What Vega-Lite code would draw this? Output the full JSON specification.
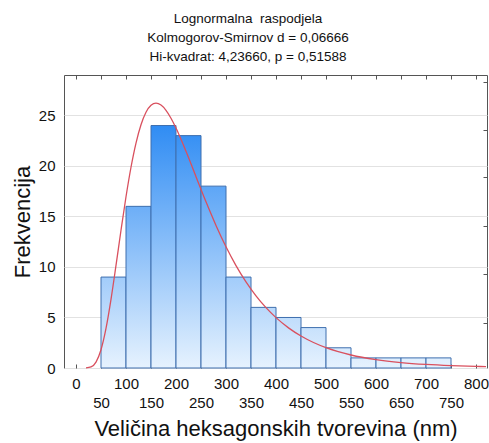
{
  "$schema": "https://vega.github.io/schema/vega-lite/v6.json",
  "width": 423,
  "height": 293,
  "autosize": {"type": "none"},
  "padding": {"left": 64, "top": 75, "right": 2, "bottom": 75},
  "background": "white",
  "config": {
    "font": "Liberation Sans",
    "view": {"stroke": "#555555", "strokeWidth": 1}
  },
  "title": {
    "text": ["Lognormalna\u00a0\u00a0raspodjela", "Kolmogorov-Smirnov d = 0,06666", "Hi-kvadrat: 4,23660, p = 0,51588"],
    "font": "Liberation Sans",
    "fontSize": 13.5,
    "fontWeight": "normal",
    "color": "#111111",
    "lineHeight": 19,
    "anchor": "middle",
    "dx": -27.5,
    "offset": 11
  },
  "datasets": {
    "bins": [
      {"start": 50, "end": 100, "count": 9},
      {"start": 100, "end": 150, "count": 16},
      {"start": 150, "end": 200, "count": 24},
      {"start": 200, "end": 250, "count": 23},
      {"start": 250, "end": 300, "count": 18},
      {"start": 300, "end": 350, "count": 9},
      {"start": 350, "end": 400, "count": 6},
      {"start": 400, "end": 450, "count": 5},
      {"start": 450, "end": 500, "count": 4},
      {"start": 500, "end": 550, "count": 2},
      {"start": 550, "end": 600, "count": 1},
      {"start": 600, "end": 650, "count": 1},
      {"start": 650, "end": 700, "count": 1},
      {"start": 700, "end": 750, "count": 1}
    ],
    "curve": [
      {"x": 20, "f": 0.005}, {"x": 30, "f": 0.103}, {"x": 40, "f": 0.589},
      {"x": 50, "f": 1.81}, {"x": 60, "f": 3.917}, {"x": 70, "f": 6.798},
      {"x": 80, "f": 10.149}, {"x": 90, "f": 13.633}, {"x": 100, "f": 16.947},
      {"x": 110, "f": 19.869}, {"x": 120, "f": 22.263}, {"x": 130, "f": 24.076},
      {"x": 140, "f": 25.306}, {"x": 150, "f": 25.998}, {"x": 160, "f": 26.214},
      {"x": 170, "f": 26.022}, {"x": 180, "f": 25.503}, {"x": 190, "f": 24.724},
      {"x": 200, "f": 23.753}, {"x": 220, "f": 21.448}, {"x": 240, "f": 18.936},
      {"x": 260, "f": 16.446}, {"x": 280, "f": 14.111}, {"x": 300, "f": 12.0},
      {"x": 320, "f": 10.139}, {"x": 340, "f": 8.525}, {"x": 360, "f": 7.143},
      {"x": 380, "f": 5.971}, {"x": 400, "f": 4.984}, {"x": 425, "f": 3.973},
      {"x": 450, "f": 3.166}, {"x": 475, "f": 2.523}, {"x": 500, "f": 2.013},
      {"x": 550, "f": 1.287}, {"x": 600, "f": 0.83}, {"x": 650, "f": 0.539},
      {"x": 700, "f": 0.354}, {"x": 750, "f": 0.234}, {"x": 800, "f": 0.157},
      {"x": 820, "f": 0.134}
    ]
  },
  "resolve": {"axis": {"x": "independent", "y": "independent"}},
  "layer": [
    {
      "data": {"name": "bins"},
      "mark": {
        "type": "rect",
        "stroke": "#3e6fae",
        "strokeWidth": 1,
        "fill": {"expr": "{gradient: 'linear', x1: 0, x2: 0, y1: 1 - 25 / datum.count, y2: 1, stops: [{offset: 0, color: '#2888f3'}, {offset: 1, color: '#e6f2fe'}]}"}
      },
      "encoding": {
        "x": {
          "field": "start",
          "type": "quantitative",
          "scale": {"domain": [-24, 822], "nice": false, "zero": false},
          "axis": {
            "orient": "bottom",
            "values": [0, 50, 100, 150, 200, 250, 300, 350, 400, 450, 500, 550, 600, 650, 700, 750, 800],
            "labelExpr": "datum.value % 100 === 0 ? datum.label : ['', datum.label]",
            "labelOverlap": false,
            "labelBound": false,
            "labelFlush": false,
            "labelFontSize": 15,
            "labelColor": "#111111",
            "labelBaseline": "top",
            "labelLineHeight": 19,
            "labelPadding": 12,
            "ticks": true,
            "tickSize": -4,
            "tickColor": "#555555",
            "domain": false,
            "grid": false,
            "title": "Veličina heksagonskih tvorevina (nm)",
            "titleFontSize": 22,
            "titleFontWeight": "normal",
            "titleColor": "#111111",
            "titlePadding": 8
          }
        },
        "x2": {"field": "end"},
        "y": {
          "field": "count",
          "type": "quantitative",
          "scale": {"domain": [0, 29], "nice": false},
          "axis": {
            "orient": "left",
            "values": [0, 5, 10, 15, 20, 25],
            "grid": true,
            "gridColor": "#e2e2e2",
            "ticks": false,
            "domain": false,
            "labelFontSize": 15,
            "labelColor": "#111111",
            "labelPadding": 9,
            "title": "Frekvencija",
            "titleFontSize": 22,
            "titleFontWeight": "normal",
            "titleColor": "#111111",
            "titlePadding": 4
          }
        },
        "y2": {"datum": 0}
      }
    },
    {
      "data": {"name": "curve"},
      "mark": {"type": "line", "color": "#d9505e", "strokeWidth": 1.3, "interpolate": "monotone"},
      "encoding": {
        "x": {
          "field": "x",
          "type": "quantitative",
          "scale": {"domain": [-24, 822], "nice": false, "zero": false},
          "axis": {
            "orient": "top",
            "values": [0, 50, 100, 150, 200, 250, 300, 350, 400, 450, 500, 550, 600, 650, 700, 750, 800],
            "labels": false,
            "ticks": true,
            "tickSize": -4,
            "tickColor": "#555555",
            "domain": false,
            "grid": false,
            "title": null
          }
        },
        "y": {
          "field": "f",
          "type": "quantitative",
          "scale": {"domain": [0, 29], "nice": false},
          "axis": {
            "orient": "right",
            "values": [4.5, 9.3, 14.1, 18.9, 23.6, 28.3],
            "labels": false,
            "ticks": true,
            "tickSize": -4,
            "tickColor": "#555555",
            "domain": false,
            "grid": false,
            "title": null
          }
        }
      }
    }
  ]
}
